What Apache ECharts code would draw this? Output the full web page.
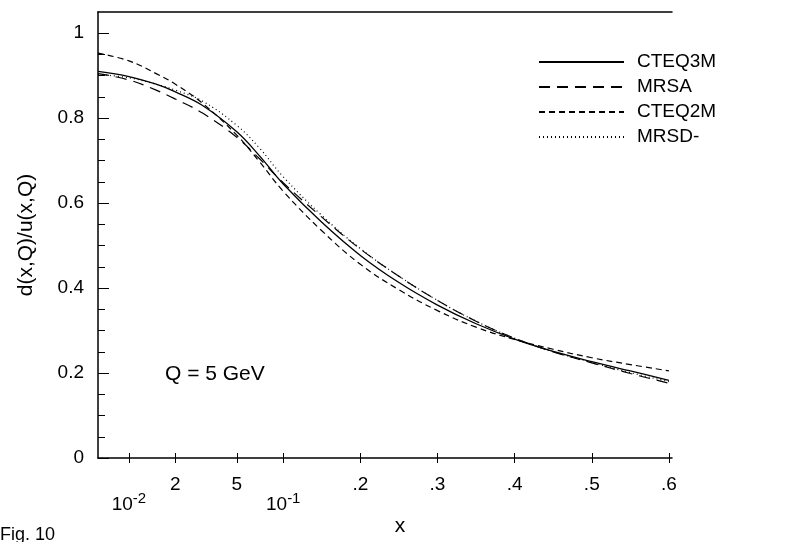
<!DOCTYPE html>
<html><head><meta charset="utf-8">
<script src="https://cdn.jsdelivr.net/npm/echarts@6/dist/echarts.min.js"></script>
<style>html,body{margin:0;padding:0;background:#fff}#c{width:808px;height:542px}</style>
</head><body><div id="c"></div>
<script>
// ---- data ----
const xs     = [0.0063, 0.01, 0.015, 0.02, 0.03, 0.05, 0.07, 0.1, 0.15, 0.2, 0.25, 0.3, 0.35, 0.4, 0.45, 0.5, 0.55, 0.6];
const cteq3m = [0.910, 0.898, 0.880, 0.862, 0.830, 0.768, 0.712, 0.645, 0.555, 0.477, 0.413, 0.360, 0.316, 0.280, 0.251, 0.227, 0.205, 0.183];
const mrsa   = [0.905, 0.890, 0.866, 0.845, 0.812, 0.755, 0.705, 0.648, 0.567, 0.492, 0.428, 0.371, 0.322, 0.282, 0.250, 0.224, 0.199, 0.176];
const cteq2m = [0.953, 0.935, 0.905, 0.880, 0.835, 0.760, 0.698, 0.628, 0.535, 0.456, 0.396, 0.347, 0.308, 0.279, 0.256, 0.236, 0.220, 0.205];
const mrsd   = [0.903, 0.895, 0.880, 0.866, 0.840, 0.783, 0.730, 0.662, 0.571, 0.493, 0.428, 0.371, 0.322, 0.282, 0.250, 0.225, 0.201, 0.180];
const seriesNames = ['CTEQ3M', 'MRSA', 'CTEQ2M', 'MRSD-'];
const xTicks = [0.01, 0.02, 0.05, 0.1, 0.2, 0.3, 0.4, 0.5, 0.6];
const xTickLabels = ['10^-2', '2', '5', '10^-1', '.2', '.3', '.4', '.5', '.6'];
const yMajor = [0, 0.2, 0.4, 0.6, 0.8, 1];
const yMajorLabels = ['0', '0.2', '0.4', '0.6', '0.8', '1'];
const yMinor = [0.05,0.1,0.15,0.25,0.3,0.35,0.45,0.5,0.55,0.65,0.7,0.75,0.85,0.9,0.95];

// axis transform: log for x<=0.1, linear beyond
function u(x){ return x <= 0.1 ? Math.log10(x) + 2 : 1 + (x - 0.1) * 5; }
const uTicks = xTicks.map(u);
function labelFor(v){
  let best = 0, d = 1e9;
  uTicks.forEach((t,i)=>{ if (Math.abs(t-v) < d){ d = Math.abs(t-v); best = i; } });
  return xTickLabels[best];
}
const plainIdx = xTickLabels.map((l,i)=>i).filter(i=>xTickLabels[i].indexOf('^')<0);
const decIdx = xTickLabels.map((l,i)=>i).filter(i=>xTickLabels[i].indexOf('^')>=0);

const FONT = 'Liberation Sans, Arial, sans-serif';
const xmin = u(0.0063), xmax = u(0.6) + 0.02;

const chart = echarts.init(document.getElementById('c'), null, {renderer:'canvas'});
function mk(name, vals, type, w){
  return { name, type:'line', xAxisIndex:0, yAxisIndex:0, symbol:'none', smooth:0.4,
    data: xs.map((x,i)=>[u(x), vals[i]]),
    lineStyle:{color:'#000', width:w, type:type}, itemStyle:{color:'#000'} };
}
chart.setOption({
  animation:false,
  grid:{left:98, top:12, right:136, bottom:81, containLabel:false},
  legend:{orient:'vertical', left:538, top:52, padding:0, itemWidth:85, itemHeight:14, itemGap:5,
    itemStyle:{opacity:0, borderWidth:0},
    textStyle:{fontFamily:FONT, fontSize:19, lineHeight:20, color:'#000', padding:[0,0,0,8]},
    data: seriesNames},
  xAxis:[
    {type:'value', min:xmin, max:xmax, position:'bottom',
      axisLine:{show:true, onZero:false, lineStyle:{color:'#000', width:1.5}},
      axisTick:{show:true, inside:true, length:5, customValues:uTicks, lineStyle:{color:'#000', width:1}},
      axisLabel:{show:true, customValues: plainIdx.map(i=>uTicks[i]), formatter:labelFor, margin:17,
        fontFamily:FONT, fontSize:19, color:'#000'},
      splitLine:{show:false},
      name:'x', nameLocation:'middle', nameGap:58,
      nameTextStyle:{fontFamily:FONT, fontSize:21, color:'#000', padding:[0,0,0,30]}},
    {type:'value', min:xmin, max:xmax, position:'bottom',
      axisLine:{show:false, onZero:false},
      axisTick:{show:true, inside:false, length:5, customValues:uTicks, lineStyle:{color:'#000', width:1}},
      axisLabel:{show:true, customValues: decIdx.map(i=>uTicks[i]), margin:33,
        formatter:function(v){ const l = labelFor(v).split('^'); return '{b|'+l[0]+'}{s|'+l[1]+'}'; },
        rich:{b:{fontFamily:FONT, fontSize:19, color:'#000'}, s:{fontFamily:FONT, fontSize:15, color:'#000', padding:[0,0,12,0]}}},
      splitLine:{show:false}},
    {type:'value', min:xmin, max:xmax, position:'top',
      axisLine:{show:true, onZero:false, lineStyle:{color:'#000', width:1.5}},
      axisTick:{show:false}, axisLabel:{show:false}, splitLine:{show:false}}
  ],
  yAxis:[
    {type:'value', min:0, max:1.05, position:'left',
      axisLine:{show:true, onZero:false, lineStyle:{color:'#000', width:1.5}},
      axisTick:{show:true, inside:true, length:11, customValues:yMajor, lineStyle:{color:'#000', width:1}},
      axisLabel:{show:true, customValues:yMajor, margin:14,
        formatter:function(v){ let b=0,d=1e9; yMajor.forEach((t,i)=>{if(Math.abs(t-v)<d){d=Math.abs(t-v);b=i;}}); return yMajorLabels[b]; },
        fontFamily:FONT, fontSize:19, color:'#000'},
      splitLine:{show:false},
      name:'d(x,Q)/u(x,Q)', nameLocation:'middle', nameGap:61, nameRotate:90,
      nameTextStyle:{fontFamily:FONT, fontSize:21, color:'#000'}},
    {type:'value', min:0, max:1.05, position:'left',
      axisLine:{show:false, onZero:false},
      axisTick:{show:true, inside:true, length:7, customValues:yMinor, lineStyle:{color:'#000', width:1}},
      axisLabel:{show:false}, splitLine:{show:false}}
  ],
  graphic:[
    {type:'text', left:165, top:364, style:{text:'Q = 5 GeV', fontFamily:FONT, fontSize:21, fill:'#000'}},
    {type:'text', left:0, top:526, style:{text:'Fig. 10', fontFamily:FONT, fontSize:18, fill:'#000'}}
  ],
  series:[
    mk('CTEQ3M', cteq3m, 'solid', 1.3),
    mk('MRSA', mrsa, [11,7], 1.2),
    mk('CTEQ2M', cteq2m, [6,4], 1.2),
    mk('MRSD-', mrsd, [1,3], 1.2)
  ]
});
</script></body></html>
